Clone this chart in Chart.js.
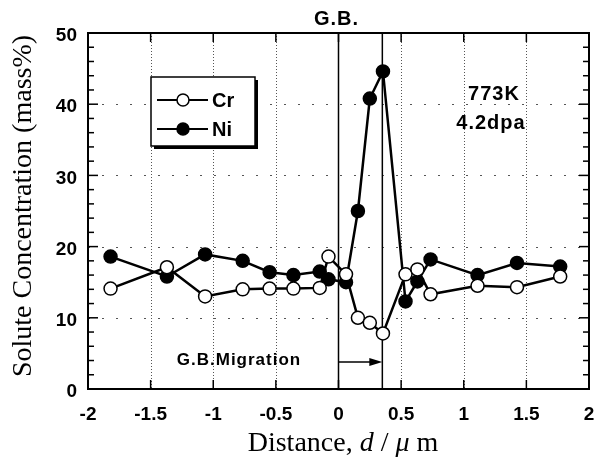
<!DOCTYPE html>
<html lang="en">
<head>
<meta charset="UTF-8">
<title>Solute Concentration across G.B.</title>
<style>
  body { margin: 0; background: #fff; }
  #wrap { width: 601px; height: 458px; }
</style>
</head>
<body>
<div id="wrap"><canvas id="profile" width="601" height="458"></canvas></div>
<script src="https://cdn.jsdelivr.net/npm/chart.js"></script>
<script>
// distance from the original grain boundary (um), same spots for both solutes
const distance = [-1.82, -1.37, -1.065, -0.765, -0.55, -0.36, -0.15, -0.08, 0.06, 0.155, 0.25, 0.355, 0.535, 0.63, 0.735, 1.11, 1.425, 1.77];
const crValues = [14.1, 17.1, 13.0, 14.0, 14.1, 14.1, 14.2, 18.6, 16.1, 10.0, 9.3, 7.8, 16.1, 16.8, 13.3, 14.5, 14.3, 15.8];
const niValues = [18.6, 15.8, 18.9, 18.0, 16.4, 16.0, 16.5, 15.4, 15.0, 25.0, 40.8, 44.6, 12.3, 15.1, 18.2, 16.0, 17.7, 17.2];
const xTicks = [-2, -1.5, -1, -0.5, 0, 0.5, 1, 1.5, 2];
const yTicks = [0, 10, 20, 30, 40, 50];
const yMinor = [2, 4, 6, 8, 12, 14, 16, 18, 22, 24, 26, 28, 32, 34, 36, 38, 42, 44, 46, 48];
const gbOriginal = 0;     // G.B. before migration
const gbMigrated = 0.35;  // G.B. after migration

const SANS = '"Liberation Sans", Arial, sans-serif';
const SERIF = '"Liberation Serif", "Times New Roman", serif';

function seg(ctx, x1, y1, x2, y2) {
    ctx.beginPath();
    ctx.moveTo(x1, y1);
    ctx.lineTo(x2, y2);
    ctx.stroke();
}

const decor = {
    id: 'decor',
    beforeDatasetsDraw(chart) {
        const { ctx, chartArea: a, scales: { x, y } } = chart;
        ctx.save();
        // dotted vertical grid
        ctx.strokeStyle = '#555';
        ctx.lineWidth = 1;
        ctx.setLineDash([1, 2]);
        xTicks.forEach(v => {
            if (v === gbOriginal || v === -2 || v === 2) return;
            const px = Math.round(x.getPixelForValue(v)) + 0.5;
            seg(ctx, px, a.top, px, a.bottom);
        });
        // sparse dotted horizontal grid
        ctx.setLineDash([2, 12]);
        yTicks.forEach(v => {
            if (v === 0 || v === 50) return;
            const py = Math.round(y.getPixelForValue(v)) + 0.5;
            seg(ctx, a.left, py, a.right, py);
        });
        ctx.setLineDash([]);

        // grain boundary lines
        ctx.strokeStyle = '#000';
        ctx.lineWidth = 1.5;
        [gbOriginal, gbMigrated].forEach(v => {
            const px = x.getPixelForValue(v);
            seg(ctx, px, a.top, px, a.bottom);
        });

        // migration arrow
        const ay = y.getPixelForValue(3.8);
        const x0 = x.getPixelForValue(gbOriginal);
        const x1 = x.getPixelForValue(gbMigrated);
        seg(ctx, x0, ay, x1 - 8, ay);
        ctx.fillStyle = '#000';
        ctx.beginPath();
        ctx.moveTo(x1, ay);
        ctx.lineTo(x1 - 13, ay - 4);
        ctx.lineTo(x1 - 13, ay + 4);
        ctx.closePath();
        ctx.fill();
        ctx.restore();
    },
    afterDatasetsDraw(chart) {
        const { ctx, chartArea: a, scales: { x, y } } = chart;
        ctx.save();
        ctx.strokeStyle = '#000';
        ctx.fillStyle = '#000';

        // frame
        ctx.lineWidth = 2;
        ctx.strokeRect(a.left, a.top, a.right - a.left, a.bottom - a.top);

        // inward tick marks
        ctx.lineWidth = 1.5;
        xTicks.forEach(v => {
            const px = x.getPixelForValue(v);
            seg(ctx, px, a.bottom, px, a.bottom - 9);
            seg(ctx, px, a.top, px, a.top + 9);
        });
        yTicks.forEach(v => {
            const py = y.getPixelForValue(v);
            seg(ctx, a.left, py, a.left + 10, py);
            seg(ctx, a.right, py, a.right - 10, py);
        });
        yMinor.forEach(v => {
            const py = y.getPixelForValue(v);
            seg(ctx, a.left, py, a.left + 6, py);
            seg(ctx, a.right, py, a.right - 6, py);
        });

        // legend box with shadow
        const lx = 151, ly = 77, lw = 104, lh = 69;
        ctx.fillRect(lx + 3, ly + 3, lw, lh);
        ctx.fillStyle = '#fff';
        ctx.fillRect(lx, ly, lw, lh);
        ctx.lineWidth = 1.5;
        ctx.strokeRect(lx, ly, lw, lh);
        const rows = [
            { name: 'Cr', fill: '#fff', cy: 100 },
            { name: 'Ni', fill: '#000', cy: 129 }
        ];
        rows.forEach(r => {
            ctx.lineWidth = 2;
            seg(ctx, 157, r.cy, 208, r.cy);
            ctx.beginPath();
            ctx.arc(183, r.cy, 6, 0, Math.PI * 2);
            ctx.fillStyle = r.fill;
            ctx.fill();
            ctx.lineWidth = 1.5;
            ctx.stroke();
            ctx.fillStyle = '#000';
            ctx.font = 'bold 20px ' + SANS;
            ctx.textAlign = 'left';
            ctx.textBaseline = 'middle';
            ctx.fillText(r.name, 212, r.cy + 1);
        });

        // annotations
        ctx.fillStyle = '#000';
        ctx.textAlign = 'center';
        ctx.textBaseline = 'middle';
        ctx.letterSpacing = '1px';
        ctx.font = 'bold 20px ' + SANS;
        ctx.fillText('G.B.', x.getPixelForValue(gbOriginal) - 2, 19);
        ctx.font = 'bold 20px ' + SANS;
        ctx.fillText('773K', 494, 94);
        ctx.fillText('4.2dpa', 491, 123);
        ctx.font = 'bold 17px ' + SANS;
        ctx.fillText('G.B.Migration', 239, 360);
        ctx.letterSpacing = '0px';

        // y title
        ctx.save();
        ctx.translate(24, 206);
        ctx.rotate(-Math.PI / 2);
        ctx.font = '28px ' + SERIF;
        ctx.fillText('Solute Concentration (mass%)', 0, 0);
        ctx.restore();

        // x title with italic symbols
        const parts = [
            ['Distance, ', ''], ['d', 'italic '], [' / ', ''], ['\u03bc', 'italic '], [' m', '']
        ];
        let total = 0;
        parts.forEach(p => { ctx.font = p[1] + '28px ' + SERIF; total += ctx.measureText(p[0]).width; });
        let cx = 343 - total / 2;
        ctx.textAlign = 'left';
        ctx.textBaseline = 'alphabetic';
        parts.forEach(p => {
            ctx.font = p[1] + '28px ' + SERIF;
            ctx.fillText(p[0], cx, 451);
            cx += ctx.measureText(p[0]).width;
        });
        ctx.restore();
    }
};

const ctx = document.getElementById('profile').getContext('2d');
const toPoints = vals => distance.map((d, i) => ({ x: d, y: vals[i] }));

new Chart(ctx, {
    type: 'scatter',
    data: {
        datasets: [
            {
                label: 'Cr',
                data: toPoints(crValues),
                showLine: true,
                borderColor: '#000',
                borderWidth: 2.5,
                pointRadius: 6.5,
                pointBackgroundColor: '#fff',
                pointBorderColor: '#000',
                pointBorderWidth: 1.5
            },
            {
                label: 'Ni',
                data: toPoints(niValues),
                showLine: true,
                borderColor: '#000',
                borderWidth: 2.5,
                pointRadius: 6.5,
                pointBackgroundColor: '#000',
                pointBorderColor: '#000',
                pointBorderWidth: 1.5
            }
        ]
    },
    options: {
        responsive: false,
        animation: false,
        devicePixelRatio: 1,
        layout: { padding: { top: 33, right: 12, left: 0, bottom: 0 } },
        plugins: { legend: { display: false }, tooltip: { enabled: false } },
        scales: {
            x: {
                type: 'linear',
                min: -2,
                max: 2,
                grid: { display: false, drawTicks: false },
                border: { display: false },
                ticks: {
                    stepSize: 0.5,
                    autoSkip: false,
                    maxRotation: 0,
                    padding: 14,
                    color: '#000',
                    font: { family: SANS, size: 19, weight: 'bold' },
                    callback: v => String(v)
                },
                afterFit(s) {
                    s.height = 69;
                    s.paddingLeft = 0;
                    s.paddingRight = 0;
                }
            },
            y: {
                min: 0,
                max: 50,
                grid: { display: false, drawTicks: false },
                border: { display: false },
                ticks: {
                    stepSize: 10,
                    padding: 11,
                    labelOffset: 3,
                    color: '#000',
                    font: { family: SANS, size: 19, weight: 'bold' }
                },
                afterFit(s) {
                    s.width = 88;
                    s.paddingTop = 0;
                    s.paddingBottom = 0;
                }
            }
        }
    },
    plugins: [decor]
});
</script>
</body>
</html>
